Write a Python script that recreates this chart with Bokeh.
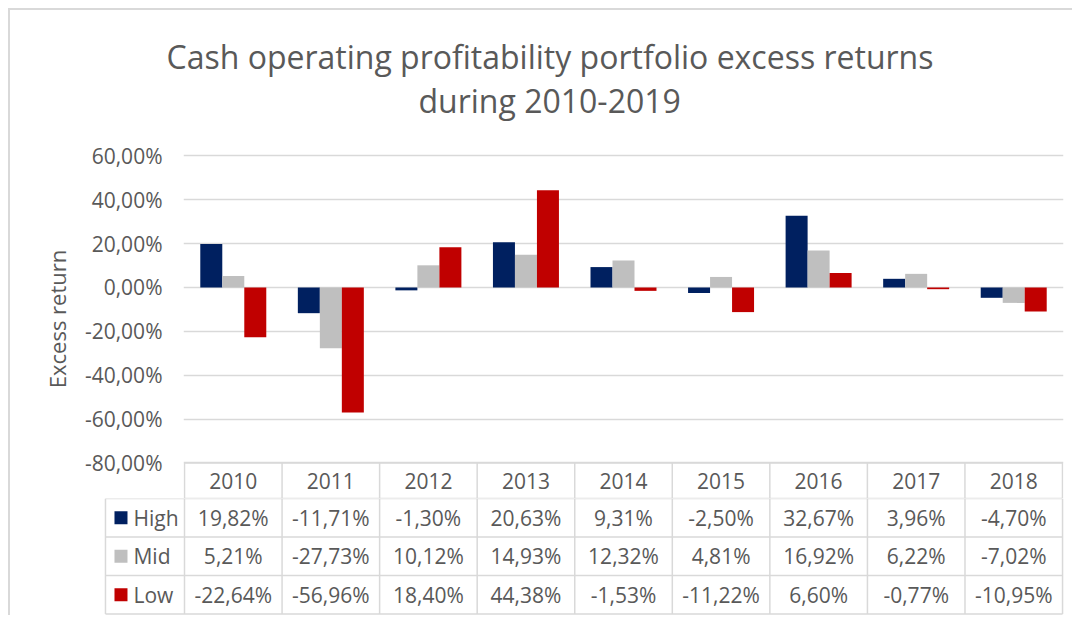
from bokeh.plotting import figure
from bokeh.models import Range1d, FixedTicker, ColumnDataSource, Title
from bokeh.layouts import column
from bokeh.embed import file_html
from bokeh.resources import INLINE
from bokeh.core.properties import value

# ---------------- data ----------------
years = ["2010", "2011", "2012", "2013", "2014", "2015", "2016", "2017", "2018"]
high = [19.82, -11.71, -1.30, 20.63, 9.31, -2.50, 32.67, 3.96, -4.70]
mid = [5.21, -27.73, 10.12, 14.93, 12.32, 4.81, 16.92, 6.22, -7.02]
low = [-22.64, -56.96, 18.40, 44.38, -1.53, -11.22, 6.60, -0.77, -10.95]
series_names = ["High", "Mid", "Low"]
series_colors = ["#002060", "#BFBFBF", "#C00000"]
y_ticks = [-80, -60, -40, -20, 0, 20, 40, 60]
y_tick_labels = ["-80,00%", "-60,00%", "-40,00%", "-20,00%", "0,00%", "20,00%", "40,00%", "60,00%"]
title_lines = ["Cash operating profitability portfolio excess returns", "during 2010-2019"]
y_axis_label = "Excess return"

FONT = "Open Sans"
TXT = "#595959"
GRID = "#D9D9D9"
FS = "21px"

series_values = [high, mid, low]
n = len(years)

def fmt(v):
    return ("%.2f" % v).replace(".", ",") + "%"

# ---------------- chart figure ----------------
p1 = figure(width=1062, height=488, title=None,
            x_range=Range1d(-0.0103, 9.0103), y_range=Range1d(-96.22, 67.49),
            output_backend="svg", toolbar_location=None, x_axis_type=None,
            min_border_left=173, min_border_right=9, min_border_top=129, min_border_bottom=0,
            outline_line_color=None, frame_align=False)

# title: two lines, closest to the frame added first
p1.add_layout(Title(text=title_lines[1], align="left", offset=235, standoff=36, text_font=FONT,
                    text_font_size="32px", text_font_style="normal", text_color=TXT), "above")
p1.add_layout(Title(text=title_lines[0], align="left", offset=-17, standoff=-38, text_font=FONT,
                    text_font_size="32px", text_font_style="normal", text_color=TXT), "above")

yax = p1.yaxis[0]
yax.ticker = FixedTicker(ticks=y_ticks)
yax.major_label_overrides = {t: l for t, l in zip(y_ticks, y_tick_labels)}
yax.axis_line_color = None
yax.major_tick_line_color = None
yax.minor_tick_line_color = None
yax.major_tick_out = 0
yax.major_label_standoff = 21
yax.major_label_text_font = FONT
yax.major_label_text_font_size = FS
yax.major_label_text_color = TXT
yax.axis_label = y_axis_label
yax.axis_label_text_font = FONT
yax.axis_label_text_font_size = "22px"
yax.axis_label_text_font_style = "normal"
yax.axis_label_text_color = TXT
yax.axis_label_standoff = 10

p1.ygrid.ticker = FixedTicker(ticks=y_ticks)
p1.ygrid.grid_line_color = GRID
p1.ygrid.grid_line_width = 1.5

bar_w = 0.2255
offsets = [-bar_w, 0.0, bar_w]
for vals, col, off in zip(series_values, series_colors, offsets):
    src = ColumnDataSource(dict(x=[i + 0.5 + off for i in range(n)], top=vals))
    p1.vbar(x="x", top="top", bottom=0, width=bar_w, source=src,
            fill_color=col, line_color=None)

# header row of the data table (years)
hdr_top, hdr_bot = -80, -96.22
p1.segment(x0=list(range(n + 1)), x1=list(range(n + 1)),
           y0=[hdr_top] * (n + 1), y1=[hdr_bot] * (n + 1),
           line_color=GRID, line_width=1.5)
p1.segment(x0=[0], x1=[n], y0=[hdr_top], y1=[hdr_top], line_color=GRID, line_width=1.5)
p1.segment(x0=[0], x1=[n], y0=[hdr_bot], y1=[hdr_bot], line_color=GRID, line_width=1.5)
p1.text(x=[i + 0.5 for i in range(n)], y=[(hdr_top + hdr_bot) / 2] * n, text=years,
        text_font=value(FONT), text_font_size=FS, text_color=TXT,
        text_align="center", text_baseline="middle")

# ---------------- table figure ----------------
p2 = figure(width=1062, height=117,
            x_range=Range1d(-0.861, 9.061), y_range=Range1d(-117, 0),
            output_backend="svg", toolbar_location=None,
            x_axis_type=None, y_axis_type=None,
            min_border_left=90, min_border_right=4, min_border_top=0, min_border_bottom=0,
            outline_line_color=None, frame_align=False)
p2.grid.visible = False

row_h = 38.5
leg_left = -0.81
row_lines = [-k * row_h for k in range(len(series_names) + 1)]
p2.segment(x0=[leg_left] * len(row_lines), x1=[n] * len(row_lines),
           y0=row_lines, y1=row_lines, line_color=GRID, line_width=1.5)
vx = [leg_left] + list(range(n + 1))
p2.segment(x0=vx, x1=vx, y0=[0] * len(vx), y1=[row_lines[-1]] * len(vx),
           line_color=GRID, line_width=1.5)

for k, (name, col, vals) in enumerate(zip(series_names, series_colors, series_values)):
    yc = -(k + 0.5) * row_h
    p2.scatter(x=[-0.651], y=[yc], marker="square", size=13, fill_color=col, line_color=None)
    p2.text(x=[-0.523], y=[yc], text=[name], text_font=value(FONT), text_font_size=FS,
            text_color=TXT, text_align="left", text_baseline="middle")
    p2.text(x=[i + 0.5 for i in range(n)], y=[yc] * n, text=[fmt(v) for v in vals],
            text_font=value(FONT), text_font_size=FS, text_color=TXT,
            text_align="center", text_baseline="middle")

layout = column(p1, p2, styles={"margin-left": "8px", "margin-top": "8px",
                                "border-left": "2px solid #D9D9D9",
                                "border-top": "2px solid #D9D9D9"})

open("out.html", "w").write(file_html(layout, INLINE))
